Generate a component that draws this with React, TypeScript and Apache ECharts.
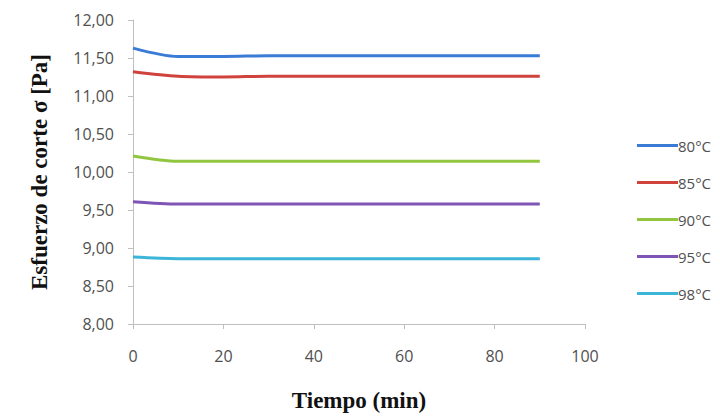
import React, { useEffect, useRef } from "react";
import * as echarts from "echarts";

const times = [0, 10, 20, 30, 40, 50, 60, 70, 80, 90];
const seriesNames = ["80°C", "85°C", "90°C", "95°C", "98°C"];
const s80 = [11.63, 11.52, 11.52, 11.53, 11.53, 11.53, 11.53, 11.53, 11.53, 11.53];
const s85 = [11.32, 11.26, 11.25, 11.26, 11.26, 11.26, 11.26, 11.26, 11.26, 11.26];
const s90 = [10.21, 10.14, 10.14, 10.14, 10.14, 10.14, 10.14, 10.14, 10.14, 10.14];
const s95 = [9.61, 9.58, 9.58, 9.58, 9.58, 9.58, 9.58, 9.58, 9.58, 9.58];
const s98 = [8.88, 8.86, 8.86, 8.86, 8.86, 8.86, 8.86, 8.86, 8.86, 8.86];
const colors = ["#3a7bd5", "#d0423c", "#92c640", "#7e55b5", "#3db5d8"];

export default function App() {
  const ref = useRef<HTMLDivElement>(null);
  useEffect(() => {
    if (!ref.current) return;
    const chart = echarts.init(ref.current, undefined, { renderer: "svg" });
    const all = [s80, s85, s90, s95, s98];
    chart.setOption({
      animation: false,
      backgroundColor: "#ffffff",
      grid: { left: 133, right: 135, top: 20, bottom: 87 },
      legend: {
        orient: "vertical",
        left: 632,
        top: 133,
        itemWidth: 41,
        itemHeight: 3,
        itemGap: 22,
        icon: "rect",
        data: seriesNames,
        textStyle: { fontFamily: "Open Sans", fontSize: 15, color: "#505050", padding: [0, 0, 0, -5] },
      },
      xAxis: {
        type: "value",
        min: 0,
        max: 100,
        interval: 20,
        name: "Tiempo (min)",
        nameLocation: "middle",
        nameGap: 65,
        nameTextStyle: { fontFamily: "Liberation Serif", fontWeight: "bold", fontSize: 23, color: "#111" },
        axisLine: { lineStyle: { color: "#bfbfbf" } },
        axisTick: { show: true, length: 5, lineStyle: { color: "#bfbfbf" } },
        axisLabel: { margin: 24, fontFamily: "Open Sans", fontSize: 16, color: "#505050" },
        splitLine: { show: false },
      },
      yAxis: {
        type: "value",
        min: 8,
        max: 12,
        interval: 0.5,
        name: "Esfuerzo de corte σ [Pa]",
        nameLocation: "middle",
        nameRotate: 90,
        nameGap: 82,
        nameTextStyle: { fontFamily: "Liberation Serif", fontWeight: "bold", fontSize: 23, color: "#111" },
        axisLine: { show: true, lineStyle: { color: "#bfbfbf" } },
        axisTick: { show: true, length: 5, lineStyle: { color: "#bfbfbf" } },
        axisLabel: {
          margin: 19,
          fontFamily: "Open Sans",
          fontSize: 16,
          color: "#505050",
          formatter: (v: number) => v.toFixed(2).replace(".", ","),
        },
        splitLine: { show: false },
      },
      series: seriesNames.map((n, i) => ({
        name: n,
        type: "line",
        smooth: 0.3,
        showSymbol: false,
        symbol: "none",
        color: colors[i],
        lineStyle: { width: 3, color: colors[i] },
        data: times.map((t, j) => [t, all[i][j]]),
      })),
    });
    return () => chart.dispose();
  }, []);
  return <div ref={ref} style={{ width: 720, height: 417, position: "absolute", left: 0, top: 0 }} />;
}
